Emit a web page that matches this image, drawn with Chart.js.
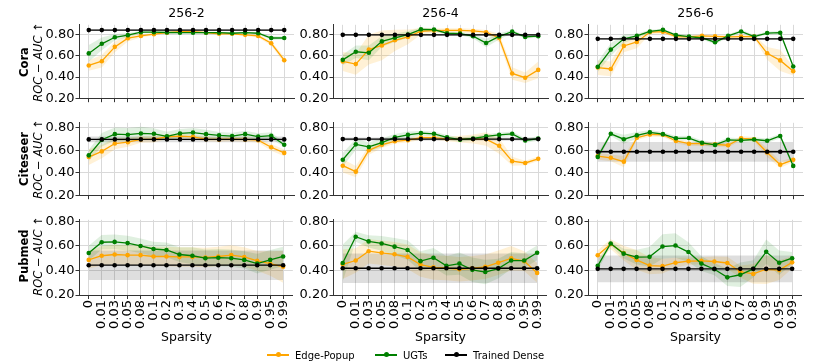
<!DOCTYPE html>
<html>
<head>
<meta charset="utf-8">
<script src="https://cdn.jsdelivr.net/npm/chart.js@4.4.1/dist/chart.umd.min.js"></script>
<style>
    body { margin: 0; background: #fff; font-family: "DejaVu Sans", sans-serif; }
    #figura { position: relative; width: 814px; height: 362px; overflow: hidden; }
    .panel { position: absolute; }
    .texto { position: absolute; color: #000; white-space: nowrap; line-height: 1; }
    .titulo { font-size: 12.5px; transform: translateX(-50%); }
    .fila { transform: translate(-50%, -50%) rotate(-90deg); }
    .nombre { font-size: 11.5px; font-weight: bold; }
    .metrica { font-size: 11.5px; font-style: italic; }
    .xlabel { font-size: 12.5px; transform: translateX(-50%); }
    .leyenda { position: absolute; top: 348px; height: 14px; display: flex; align-items: center; font-size: 10px; }
    .marca { position: relative; width: 22px; height: 1.4px; margin-right: 6px; }
    .marca::after { content: ""; position: absolute; left: 8.5px; top: -2px; width: 5px; height: 5px; border-radius: 50%; background: inherit; }
</style>
</head>
<body>
<div id="figura"></div>
<script>
// Eje X: niveles de sparsity
const etiquetasSparsity = ['0', '0.01', '0.03', '0.05', '0.08', '0.1', '0.2', '0.3', '0.4', '0.5', '0.6', '0.7', '0.8', '0.9', '0.95', '0.99'];
const titulosColumnas = ['256-2', '256-4', '256-6'];
const nombresFilas = ['Cora', 'Citeseer', 'Pubmed'];
const ticksY = [0.2, 0.4, 0.6, 0.8];

// Cora
const coraEdge2 = [0.51, 0.55, 0.686, 0.768, 0.79, 0.806, 0.82, 0.83, 0.83, 0.82, 0.81, 0.81, 0.80, 0.79, 0.72, 0.56];
const coraEdge2Std = [0.05, 0.06, 0.05, 0.03, 0.015, 0.01, 0.01, 0.01, 0.01, 0.01, 0.01, 0.01, 0.01, 0.015, 0.02, 0.03];
const coraUgt2 = [0.624, 0.715, 0.777, 0.797, 0.825, 0.825, 0.822, 0.82, 0.82, 0.82, 0.82, 0.815, 0.82, 0.815, 0.77, 0.77];
const coraUgt2Std = [0.08, 0.06, 0.03, 0.02, 0.01, 0.01, 0.01, 0.01, 0.01, 0.01, 0.01, 0.01, 0.01, 0.01, 0.02, 0.015];
const coraEdge4 = [0.548, 0.523, 0.66, 0.70, 0.748, 0.78, 0.834, 0.84, 0.843, 0.843, 0.837, 0.825, 0.77, 0.434, 0.394, 0.468];
const coraEdge4Std = [0.09, 0.1, 0.14, 0.14, 0.1, 0.07, 0.03, 0.02, 0.02, 0.02, 0.02, 0.02, 0.04, 0.06, 0.05, 0.08];
const coraUgt4 = [0.563, 0.64, 0.63, 0.738, 0.772, 0.803, 0.852, 0.85, 0.815, 0.812, 0.787, 0.723, 0.785, 0.83, 0.78, 0.787];
const coraUgt4Std = [0.05, 0.06, 0.07, 0.05, 0.04, 0.03, 0.015, 0.015, 0.015, 0.015, 0.02, 0.04, 0.03, 0.015, 0.015, 0.015];
const coraEdge6 = [0.49, 0.477, 0.695, 0.733, 0.826, 0.83, 0.783, 0.78, 0.79, 0.785, 0.78, 0.783, 0.783, 0.625, 0.558, 0.456];
const coraEdge6Std = [0.07, 0.07, 0.06, 0.06, 0.02, 0.015, 0.015, 0.015, 0.015, 0.015, 0.015, 0.015, 0.015, 0.06, 0.1, 0.04];
const coraUgt6 = [0.497, 0.66, 0.762, 0.79, 0.832, 0.847, 0.797, 0.783, 0.77, 0.73, 0.79, 0.832, 0.783, 0.817, 0.82, 0.50];
const coraUgt6Std = [0.05, 0.06, 0.04, 0.02, 0.015, 0.01, 0.015, 0.015, 0.015, 0.02, 0.015, 0.015, 0.015, 0.015, 0.015, 0.02];
const coraDense = [0.845, 0.80, 0.762];
const coraDenseStd = [0.008, 0.008, 0.008];

// Citeseer
const citeEdge2 = [0.54, 0.59, 0.66, 0.672, 0.697, 0.70, 0.72, 0.727, 0.72, 0.70, 0.697, 0.70, 0.697, 0.69, 0.627, 0.577];
const citeEdge2Std = [0.07, 0.06, 0.05, 0.04, 0.03, 0.03, 0.02, 0.02, 0.02, 0.02, 0.02, 0.02, 0.02, 0.02, 0.03, 0.03];
const citeUgt2 = [0.555, 0.694, 0.744, 0.739, 0.75, 0.747, 0.725, 0.75, 0.758, 0.744, 0.733, 0.727, 0.744, 0.722, 0.73, 0.65];
const citeUgt2Std = [0.05, 0.06, 0.06, 0.06, 0.06, 0.05, 0.04, 0.04, 0.04, 0.04, 0.03, 0.03, 0.03, 0.03, 0.03, 0.02];
const citeEdge4 = [0.463, 0.41, 0.60, 0.65, 0.68, 0.69, 0.713, 0.713, 0.70, 0.70, 0.70, 0.70, 0.64, 0.503, 0.487, 0.524];
const citeEdge4Std = [0.06, 0.05, 0.04, 0.03, 0.02, 0.02, 0.02, 0.02, 0.02, 0.03, 0.04, 0.06, 0.07, 0.04, 0.02, 0.02];
const citeUgt4 = [0.516, 0.653, 0.63, 0.668, 0.716, 0.737, 0.753, 0.747, 0.716, 0.695, 0.705, 0.724, 0.737, 0.747, 0.687, 0.705];
const citeUgt4Std = [0.06, 0.05, 0.04, 0.04, 0.03, 0.03, 0.02, 0.02, 0.02, 0.02, 0.02, 0.02, 0.02, 0.02, 0.02, 0.02];
const citeEdge6 = [0.549, 0.533, 0.499, 0.712, 0.741, 0.739, 0.683, 0.659, 0.659, 0.653, 0.645, 0.707, 0.699, 0.581, 0.472, 0.515];
const citeEdge6Std = [0.03, 0.03, 0.05, 0.02, 0.02, 0.02, 0.02, 0.02, 0.02, 0.02, 0.02, 0.02, 0.02, 0.04, 0.03, 0.02];
const citeUgt6 = [0.541, 0.747, 0.699, 0.733, 0.76, 0.744, 0.707, 0.709, 0.667, 0.648, 0.693, 0.688, 0.696, 0.685, 0.728, 0.461];
const citeUgt6Std = [0.03, 0.02, 0.04, 0.03, 0.02, 0.02, 0.02, 0.02, 0.02, 0.02, 0.02, 0.02, 0.02, 0.02, 0.02, 0.02];
const citeDense = [0.697, 0.70, 0.587];
const citeDenseStd = [0.025, 0.015, 0.088];

// Pubmed
const pubEdge2 = [0.486, 0.52, 0.53, 0.525, 0.525, 0.514, 0.514, 0.51, 0.51, 0.506, 0.514, 0.525, 0.51, 0.478, 0.456, 0.43];
const pubEdge2Std = [0.07, 0.08, 0.08, 0.08, 0.08, 0.08, 0.08, 0.08, 0.08, 0.08, 0.08, 0.08, 0.08, 0.08, 0.1, 0.13];
const pubUgt2 = [0.542, 0.63, 0.633, 0.623, 0.60, 0.575, 0.567, 0.53, 0.52, 0.50, 0.504, 0.50, 0.486, 0.456, 0.486, 0.514];
const pubUgt2Std = [0.06, 0.06, 0.06, 0.06, 0.06, 0.06, 0.06, 0.06, 0.07, 0.07, 0.07, 0.07, 0.07, 0.08, 0.08, 0.08];
const pubEdge4 = [0.45, 0.481, 0.557, 0.544, 0.532, 0.511, 0.448, 0.425, 0.42, 0.41, 0.418, 0.43, 0.463, 0.499, 0.476, 0.38];
const pubEdge4Std = [0.12, 0.1, 0.1, 0.1, 0.1, 0.1, 0.1, 0.1, 0.1, 0.1, 0.1, 0.1, 0.1, 0.1, 0.08, 0.08];
const pubUgt4 = [0.461, 0.675, 0.637, 0.62, 0.594, 0.567, 0.476, 0.504, 0.438, 0.456, 0.405, 0.387, 0.415, 0.481, 0.481, 0.544];
const pubUgt4Std = [0.15, 0.04, 0.05, 0.06, 0.07, 0.08, 0.08, 0.08, 0.08, 0.09, 0.1, 0.1, 0.08, 0.07, 0.06, 0.06];
const pubEdge6 = [0.524, 0.615, 0.542, 0.486, 0.44, 0.435, 0.463, 0.476, 0.478, 0.473, 0.461, 0.39, 0.372, 0.41, 0.403, 0.466];
const pubEdge6Std = [0.04, 0.04, 0.06, 0.08, 0.07, 0.06, 0.04, 0.03, 0.03, 0.04, 0.05, 0.05, 0.08, 0.12, 0.08, 0.05];
const pubUgt6 = [0.438, 0.62, 0.537, 0.509, 0.511, 0.595, 0.603, 0.55, 0.456, 0.41, 0.344, 0.365, 0.413, 0.552, 0.463, 0.50];
const pubUgt6Std = [0.04, 0.02, 0.04, 0.06, 0.08, 0.1, 0.1, 0.08, 0.06, 0.05, 0.07, 0.1, 0.07, 0.1, 0.1, 0.05];
const pubDense = [0.443, 0.418, 0.413];
const pubDenseStd = [0.12, 0.12, 0.11];

// Colores de las series
const COLORES = {
    edge: '#FFA500',
    edgeBanda: 'rgba(255, 165, 0, 0.16)',
    ugt: '#008000',
    ugtBanda: 'rgba(0, 128, 0, 0.12)',
    dense: '#000000',
    denseBanda: 'rgba(0, 0, 0, 0.13)',
    grid: '#d9d9d9',
    eje: '#333333'
};

// Geometria de la figura (px)
const izquierdas = [79, 333, 588];
const anchoPanel = 215;
const arribas = [22, 120, 217];
const abajos = [101, 198, 295];
const maxY = [0.895, 0.845, 0.813];

// Tabla de paneles construida a partir de los arreglos
const PANELES = [
    [[coraEdge2, coraEdge2Std, coraUgt2, coraUgt2Std], [coraEdge4, coraEdge4Std, coraUgt4, coraUgt4Std], [coraEdge6, coraEdge6Std, coraUgt6, coraUgt6Std]],
    [[citeEdge2, citeEdge2Std, citeUgt2, citeUgt2Std], [citeEdge4, citeEdge4Std, citeUgt4, citeUgt4Std], [citeEdge6, citeEdge6Std, citeUgt6, citeUgt6Std]],
    [[pubEdge2, pubEdge2Std, pubUgt2, pubUgt2Std], [pubEdge4, pubEdge4Std, pubUgt4, pubUgt4Std], [pubEdge6, pubEdge6Std, pubUgt6, pubUgt6Std]]
];
const DENSE = [[coraDense, coraDenseStd], [citeDense, citeDenseStd], [pubDense, pubDenseStd]];

const figura = document.getElementById('figura');

/**
 * Puntos {x, y} de una serie, desplazada opcionalmente por su desviacion
 */
function puntos(media, std, signo) {
    return media.map(function(m, i) {
        return { x: i, y: std ? m + signo * std[i] : m };
    });
}

function serieLinea(label, media, color, orden) {
    return {
        label: label,
        data: puntos(media),
        borderColor: color,
        backgroundColor: color,
        borderWidth: 1.3,
        pointRadius: 2.3,
        pointBorderWidth: 0,
        pointBackgroundColor: color,
        fill: false,
        order: orden
    };
}

// banda superior + inferior rellena entre ambas
function serieBanda(media, std, color, orden) {
    return [{
        data: puntos(media, std, 1),
        borderWidth: 0,
        pointRadius: 0,
        fill: false,
        order: orden
    }, {
        data: puntos(media, std, -1),
        borderWidth: 0,
        pointRadius: 0,
        backgroundColor: color,
        fill: '-1',
        order: orden
    }];
}

/**
 * Crear un panel (fila, columna)
 */
function crearPanel(fila, col) {
    const [edge, edgeStd, ugt, ugtStd] = PANELES[fila][col];
    const denseVal = DENSE[fila][0][col];
    const denseStd = DENSE[fila][1][col];
    const dense = etiquetasSparsity.map(function() { return denseVal; });
    const denseDesv = etiquetasSparsity.map(function() { return denseStd; });

    const altoEjeX = fila === 2 ? 50 : 6;
    const margenArriba = 6;
    const canvas = document.createElement('canvas');
    canvas.className = 'panel';
    canvas.width = 60 + anchoPanel + 6;
    canvas.height = margenArriba + (abajos[fila] - arribas[fila]) + altoEjeX;
    canvas.style.left = (izquierdas[col] - 60) + 'px';
    canvas.style.top = (arribas[fila] - margenArriba) + 'px';
    figura.appendChild(canvas);

    const fuenteTicks = { family: 'DejaVu Sans', size: 13 };

    new Chart(canvas, {
        type: 'line',
        data: {
            datasets: [
                serieLinea('Trained Dense', dense, COLORES.dense, 0),
                serieLinea('UGTs', ugt, COLORES.ugt, 1),
                serieLinea('Edge-Popup', edge, COLORES.edge, 2),
                ...serieBanda(dense, denseDesv, COLORES.denseBanda, 3),
                ...serieBanda(ugt, ugtStd, COLORES.ugtBanda, 4),
                ...serieBanda(edge, edgeStd, COLORES.edgeBanda, 5)
            ]
        },
        options: {
            responsive: false,
            animation: false,
            layout: { padding: { top: margenArriba, right: 6, left: 0, bottom: 0 } },
            plugins: {
                legend: { display: false },
                tooltip: { enabled: false }
            },
            scales: {
                x: {
                    type: 'linear',
                    min: -0.75,
                    max: 15.75,
                    afterBuildTicks: function(eje) {
                        eje.ticks = etiquetasSparsity.map(function(_, i) { return { value: i }; });
                    },
                    afterFit: function(eje) { eje.height = altoEjeX; },
                    grid: { color: COLORES.grid, lineWidth: 1, tickColor: COLORES.eje, tickLength: 4 },
                    border: { color: COLORES.eje, width: 1 },
                    ticks: {
                        display: fila === 2,
                        autoSkip: false,
                        minRotation: 90,
                        maxRotation: 90,
                        padding: 1,
                        color: '#000',
                        font: fuenteTicks,
                        callback: function(valor) { return etiquetasSparsity[valor]; }
                    }
                },
                y: {
                    type: 'linear',
                    min: 0.2,
                    max: maxY[fila],
                    afterBuildTicks: function(eje) {
                        eje.ticks = ticksY.map(function(v) { return { value: v }; });
                    },
                    afterFit: function(eje) { eje.width = 60; },
                    grid: { color: COLORES.grid, lineWidth: 1, tickColor: COLORES.eje, tickLength: 3.5 },
                    border: { color: COLORES.eje, width: 1 },
                    ticks: {
                        padding: 1,
                        color: '#000',
                        font: fuenteTicks,
                        callback: function(valor) { return valor.toFixed(2); }
                    }
                }
            }
        }
    });
}

function agregarTexto(clase, texto, x, y) {
    const div = document.createElement('div');
    div.className = 'texto ' + clase;
    div.textContent = texto;
    div.style.left = x + 'px';
    div.style.top = y + 'px';
    figura.appendChild(div);
}

for (let f = 0; f < 3; f++) {
    for (let c = 0; c < 3; c++) {
        crearPanel(f, c);
    }
    const centroY = (arribas[f] + abajos[f]) / 2;
    agregarTexto('fila nombre', nombresFilas[f], 25, centroY);
    agregarTexto('fila metrica', 'ROC \u2212 AUC \u2191', 38.5, centroY);
}

titulosColumnas.forEach(function(t, c) {
    const centroX = izquierdas[c] + anchoPanel / 2;
    agregarTexto('titulo', t, centroX, 7);
    agregarTexto('xlabel', 'Sparsity', centroX, 331);
});

// Leyenda comun inferior
[['Edge-Popup', COLORES.edge, 267], ['UGTs', COLORES.ugt, 375], ['Trained Dense', COLORES.dense, 445]].forEach(function(item) {
    const div = document.createElement('div');
    div.className = 'leyenda';
    div.style.left = item[2] + 'px';
    div.innerHTML = '<span class="marca" style="background:' + item[1] + '"></span><span>' + item[0] + '</span>';
    figura.appendChild(div);
});
</script>
</body>
</html>
